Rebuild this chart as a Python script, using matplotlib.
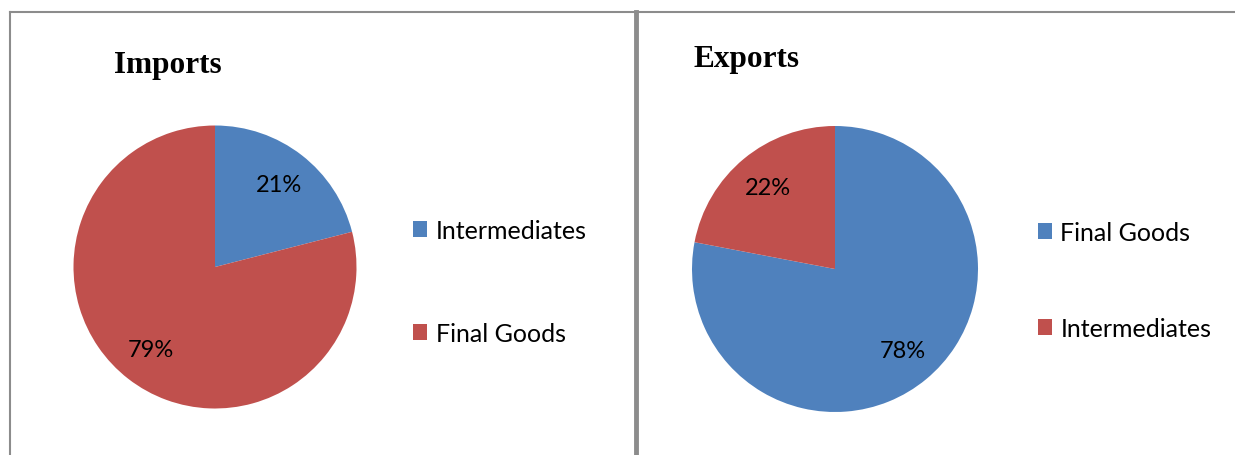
import matplotlib.pyplot as plt
from matplotlib.lines import Line2D

# import / export shares (%)
import_labels = ["Intermediates", "Final Goods"]
import_shares = [21, 79]
export_labels = ["Final Goods", "Intermediates"]
export_shares = [78, 22]

blue = "#4F81BD"
red = "#C0504D"
W, H = 1235, 456

plt.rcParams["font.family"] = ["Lato", "DejaVu Sans"]

fig = plt.figure(figsize=(W / 100, H / 100), dpi=100)


def px_axes(cx, cy, r):
    # square axes in pixel units centred on (cx, cy), y measured from top
    return fig.add_axes([(cx - r) / W, (H - cy - r) / H, 2 * r / W, 2 * r / H])


def draw_pie(cx, cy, r, shares, labels, colors, title, tx, ty, lx, ly, gap):
    ax = px_axes(cx, cy, r)
    wedges, _, autotexts = ax.pie(shares, colors=colors, startangle=90,
                                  counterclock=False, autopct="%.0f%%",
                                  pctdistance=0.74, radius=1.0,
                                  wedgeprops=dict(linewidth=0))
    for t in autotexts:
        t.set_fontsize(17)
        t.set_color("black")
    ax.set_xlim(-1, 1)
    ax.set_ylim(-1, 1)
    ax.set_aspect("equal")
    ax.axis("off")

    fig.text(tx / W, 1 - ty / H, title, ha="center", va="center",
             fontsize=22.5, fontweight="bold", family="Liberation Serif")

    fig.legend(wedges, labels, loc="center left",
               bbox_to_anchor=(lx / W, 1 - ly / H), frameon=False,
               fontsize=18, handlelength=0.57, handleheight=0.57,
               handletextpad=0.33, labelspacing=gap, borderpad=0,
               borderaxespad=0)


draw_pie(215, 268, 141.5, import_shares, import_labels, [blue, red],
         "Imports", 168, 65, 413, 283, 3.2)
draw_pie(835, 270, 143, export_shares, export_labels, [blue, red],
         "Exports", 746, 59, 1038, 281.5, 2.92)

# panel borders
grey = "#8C8C8C"
fig.add_artist(Line2D([10 / W, 1], [1 - 13 / H, 1 - 13 / H],
                      transform=fig.transFigure, color=grey, lw=1.5))
fig.add_artist(Line2D([10 / W, 10 / W], [0, 1 - 13 / H],
                      transform=fig.transFigure, color=grey, lw=1.5))
fig.add_artist(Line2D([636.5 / W, 636.5 / W], [0, 1 - 13 / H],
                      transform=fig.transFigure, color=grey, lw=3.5))

fig.savefig("out.png", dpi=100)
